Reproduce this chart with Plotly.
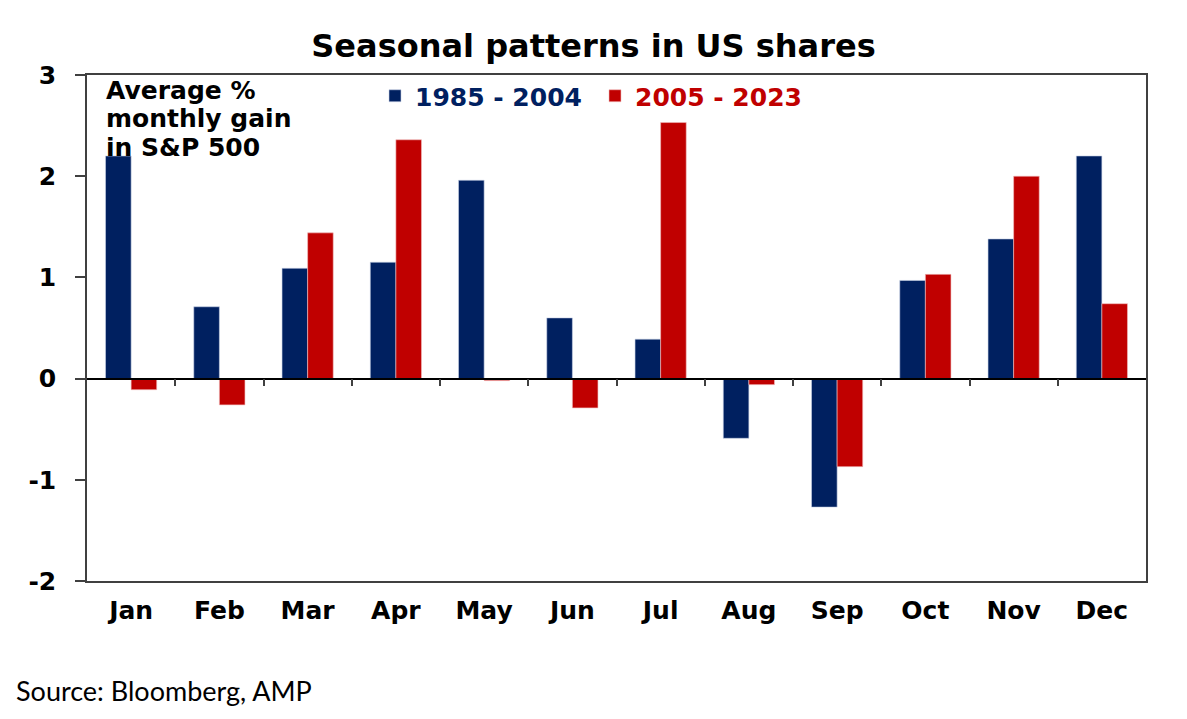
import plotly.graph_objects as go

months = ["Jan", "Feb", "Mar", "Apr", "May", "Jun",
          "Jul", "Aug", "Sep", "Oct", "Nov", "Dec"]
gain_1985_2004 = [2.20, 0.71, 1.09, 1.15, 1.96, 0.60, 0.39, -0.59, -1.27, 0.97, 1.38, 2.20]
gain_2005_2023 = [-0.11, -0.26, 1.44, 2.36, -0.02, -0.29, 2.53, -0.06, -0.87, 1.03, 2.00, 0.74]
y_ticks = [3, 2, 1, 0, -1, -2]
y_tick_labels = ["3", "2", "1", "0", "-1", "-2"]
y_range = [-2, 3]
note_lines = ["Average %", "monthly gain", "in S&P 500"]

NAVY = "#002060"
RED = "#C00000"
FONT = "DejaVu Sans"
PLOT_H = 506  # plot area height in px

fig = go.Figure()

fig.add_trace(go.Bar(
    x=months, y=gain_1985_2004,
    name=f'<span style="color:{NAVY}">1985 - 2004</span>',
    marker=dict(color=NAVY, line=dict(color="rgba(200,210,230,0.8)", width=0.75)),
))
fig.add_trace(go.Bar(
    x=months, y=gain_2005_2023,
    name=f'<span style="color:{RED}">2005 - 2023</span>',
    marker=dict(color=RED, line=dict(color="rgba(240,190,190,0.8)", width=0.75)),
))
# empty trace so the zero-line axis (with month separator ticks) is drawn
fig.add_trace(go.Scatter(x=[], y=[], xaxis="x2", showlegend=False, hoverinfo="skip"))

zero_pos = (0 - y_range[0]) / (y_range[1] - y_range[0])

# left-hand note, one annotation per line for tighter line spacing
annotations = []
for i, line in enumerate(note_lines):
    annotations.append(dict(
        text=f"<b>{line}</b>",
        xref="paper", yref="paper",
        x=(104 - 87) / 1059, y=1 - (15 + 28.5 * i) / PLOT_H,
        xanchor="left", yanchor="middle", align="left",
        showarrow=False,
        font=dict(family=FONT, size=25, color="black"),
    ))
annotations.append(dict(
    text="Source: Bloomberg, AMP",
    xref="paper", yref="paper",
    x=-(87 - 14) / 1059, y=-(690 - 581) / PLOT_H,
    xanchor="left", yanchor="middle", align="left",
    showarrow=False,
    font=dict(family="Lato", size=27, color="black"),
))

fig.update_layout(
    width=1187, height=719,
    paper_bgcolor="white", plot_bgcolor="white",
    margin=dict(l=87, r=41, t=75, b=138),
    barmode="group", bargap=0.42, bargroupgap=0,
    font=dict(family=FONT, color="black"),
    title=dict(
        text="<b>Seasonal patterns in US shares</b>",
        x=0.5, xref="container", xanchor="center",
        y=1 - 46 / 719, yref="container", yanchor="middle",
        font=dict(family=FONT, size=32, color="black"),
    ),
    xaxis=dict(
        type="category", automargin=False,
        showline=True, linecolor="#404040", linewidth=1.5, mirror=True,
        ticks="", showgrid=False,
        tickfont=dict(family=FONT, size=25, color="black", weight="bold"),
        ticklabelstandoff=6,
    ),
    xaxis2=dict(
        overlaying="x", anchor="free", position=zero_pos,
        range=[-0.5, len(months) - 0.5],
        showline=True, linecolor="black", linewidth=1.5,
        ticks="outside", ticklen=7, tickcolor="#404040", tickwidth=1.5,
        tickvals=[i + 0.5 for i in range(len(months) - 1)],
        showticklabels=False, showgrid=False, zeroline=False,
    ),
    yaxis=dict(
        range=y_range, tickvals=y_ticks, ticktext=y_tick_labels,
        automargin=False,
        showline=True, linecolor="#404040", linewidth=1.5, mirror=True,
        ticks="outside", ticklen=10, tickcolor="#404040", tickwidth=1.5,
        showgrid=False, zeroline=False,
        tickfont=dict(family=FONT, size=25, color="black", weight="bold"),
        ticklabelstandoff=14,
    ),
    legend=dict(
        orientation="h",
        x=(375 - 87) / 1059, xanchor="left",
        y=1 + 2 / PLOT_H, yanchor="top",
        bgcolor="rgba(0,0,0,0)",
        font=dict(family=FONT, size=25, weight="bold"),
        itemwidth=30, tracegroupgap=0,
        entrywidth=175,
    ),
    showlegend=True,
    annotations=annotations,
)

fig.write_html(
    "out.html",
    config={"displayModeBar": False},
    post_script="document.body.style.margin='0';",
)
